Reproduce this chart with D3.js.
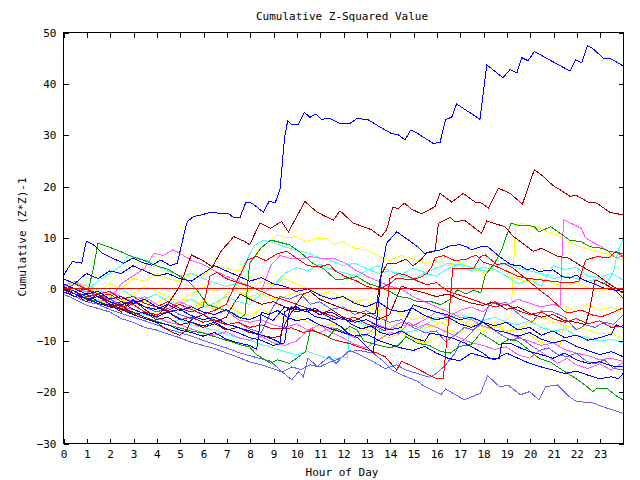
<!DOCTYPE html>
<html><head><meta charset="utf-8">
<script src="https://cdn.jsdelivr.net/npm/d3@7"></script>
<style>
html,body{margin:0;padding:0;background:#fff;}
text{font-family:"DejaVu Sans Mono","Liberation Mono",monospace;font-size:11px;fill:#000;}
</style></head>
<body>
<svg id="chart" width="640" height="480"></svg>
<script>
// ---------- data (hour, cumulative z^2-1) ----------
const xTicks = [0,1,2,3,4,5,6,7,8,9,10,11,12,13,14,15,16,17,18,19,20,21,22,23];
const yTicks = [-30,-20,-10,0,10,20,30,40,50];

const zeroLine = [[0,0],[24,0]];
const blueTop = [[0,2.5],[0.4,5.3],[0.8,5.0],[1.0,9.3],[1.3,8.6],[1.7,6.9],[2.2,5.8],[2.6,5.0],[3.0,6.0],[3.3,5.3],[3.8,4.6],[4.2,5.6],[4.6,4.5],[4.9,5.0],[5.23,11.5],[5.33,13.1],[5.59,14.1],[5.87,14.3],[6.3,14.9],[6.73,14.7],[7.09,14.7],[7.3,13.9],[7.59,13.9],[7.84,16.9],[8.09,16.7],[8.59,14.9],[8.84,17.1],[9.09,16.7],[9.3,19.4],[9.5,29.6],[9.63,32.7],[9.8,32.0],[10.08,32.0],[10.34,34.4],[10.58,33.4],[10.84,34.0],[11.08,33.0],[11.44,33.2],[11.87,32.2],[12.3,32.2],[12.61,33.2],[13.08,32.9],[13.59,31.5],[14.09,30.2],[14.37,30.0],[14.66,29.0],[14.9,30.9],[15.15,30.4],[15.87,28.3],[16.16,28.5],[16.4,33.0],[16.66,33.4],[16.87,36.0],[17.87,33.0],[18.16,43.6],[18.86,41.1],[19.16,42.7],[19.45,42.0],[19.66,45.0],[19.93,44.4],[20.2,46.2],[20.8,44.7],[21.73,42.4],[21.97,44.6],[22.23,44.0],[22.47,47.3],[22.7,46.8],[23.16,44.9],[23.44,44.9],[24,43.4]];
const darkRed1 = [[0,0.5],[0.5,-1],[1,-2.5],[1.5,-1],[2,-3],[2.5,-4.5],[3,-2],[3.5,-4],[4,-5.5],[4.5,-3],[5,0.5],[5.5,6.6],[6,5.5],[6.4,4.3],[6.8,7.5],[7.2,9.5],[7.3,10.2],[7.8,9.2],[8.0,8.6],[8.44,12.8],[8.9,11.8],[9.37,13.1],[9.66,11.1],[10.37,17.0],[10.87,15.0],[11.2,14.2],[11.59,13.4],[11.87,15.2],[12.44,12.8],[13.23,11.5],[13.63,10.1],[13.87,11.5],[14.13,15.9],[14.37,15.6],[14.63,16.7],[14.94,15.5],[15.37,14.6],[15.94,16.0],[16.16,18.6],[16.66,16.9],[17.16,18.6],[17.66,16.9],[17.94,16.7],[18.23,15.7],[18.66,19.6],[19.16,18.6],[19.69,16.5],[20.2,23.2],[20.59,21.9],[21.0,20.1],[21.37,19.1],[21.73,18.0],[22.0,18.2],[22.5,16.9],[22.87,16.7],[23.44,14.9],[24,14.4]];
const darkRed2 = [[0,0],[0.5,-1.5],[1,-1],[1.5,-2.5],[2,-3.5],[2.5,-3],[3,-5],[3.5,-4.5],[4,-6],[4.5,-5.5],[5,-7],[5.5,-6.5],[6,-7.5],[6.5,-6.8],[7,-8],[7.5,-7.5],[8,-8.5],[8.5,-9],[9,-9.5],[9.3,-9.2],[9.6,-6],[10,-3],[10.3,-1],[10.6,-0.5],[11,-2],[11.4,-2.8],[11.8,-3.5],[12.2,-4.2],[12.6,-4.5],[13.0,-4.9],[13.4,-4.7],[13.6,2.4],[13.9,5.0],[14.3,5.0],[14.7,5.8],[15.0,4.5],[15.3,5.5],[15.6,7.0],[15.94,7.3],[16.09,12.8],[16.59,13.9],[16.8,13.1],[17.23,13.3],[17.94,10.8],[18.16,13.2],[18.94,12.1],[19.3,10.2],[20.16,7.3],[20.5,7.9],[21.23,6.3],[21.66,6.0],[22.37,4.0],[22.8,3.0],[23.37,1.1],[24,-0.8]];
const darkRed3 = [[0,0],[0.5,-1],[1,-2],[1.5,-1.5],[2,-3],[2.5,-3.8],[3,-4.5],[3.5,-5.5],[4,-6.5],[4.3,-7.5],[4.7,-8.5],[5,-9],[5.3,-8],[5.5,-6],[6,-5],[6.5,-6.5],[7,-5.5],[7.3,-3],[7.6,-1],[8,-2],[8.5,-3],[9,-2.5],[9.5,-3.5],[10,-4.5],[10.5,-3.8],[11,-5],[11.5,-4],[12,-5.5],[12.5,-6.2],[13,-5],[13.5,-6],[14,-5],[14.5,0.5],[15,-0.2],[15.5,-0.8],[16,-1.5],[16.5,-1],[17,-2],[17.5,-2.8],[18,-3.2],[18.5,-2.5],[19,-4],[19.5,-3.5],[20,-4.8],[20.5,-5.5],[21,-5],[21.5,-6.2],[22,-6.5],[22.4,-7],[22.6,-3.4],[22.8,1.75],[23.2,1.0],[23.6,0],[24,-1.8]];
const red1 = [[0,0.5],[0.5,-0.5],[1,-1.5],[1.5,-1],[2,-2.5],[2.5,-3.5],[3,-3],[3.5,-4.5],[4,-5],[4.5,-4.5],[5,-6],[5.5,-5.5],[6,-6.5],[6.5,-6],[7,-7],[7.5,-6.5],[8,-7.5],[8.5,-7],[9,-7.8],[9.8,-7.6],[10.3,-8.5],[10.7,-8.0],[11.2,-9],[11.6,-9.9],[12.25,-10.6],[12.8,-11.5],[13.3,-12.2],[13.8,-13.2],[14.3,-15.8],[14.5,-14.1],[15.0,-15.1],[15.5,-16.3],[16.0,-17.5],[16.3,-17.4],[16.5,-7.3],[16.6,-2.1],[16.7,4.0],[17.1,4.0],[17.6,4.0],[17.9,6.3],[18.1,6.6],[18.6,4.7],[18.9,5.0],[19.3,4.0],[19.7,2.5],[20.5,-0.5],[20.8,-1.5],[21.5,-4.4],[21.7,-4.7],[22.2,-4.1],[22.7,-5.1],[23.1,-5.4],[23.5,-4.7],[24,-3.7]];
const red2 = [[0,-0.5],[0.5,1],[1,0],[1.5,-1.5],[2,-1],[2.5,-2.5],[3,-3],[3.5,-2],[4,-3.5],[4.5,-4.2],[5,-3],[5.5,-4],[6,-5],[6.5,-4.2],[7,-3],[7.5,2],[7.9,5.6],[8.3,6.3],[8.7,5.5],[9.2,6.9],[9.6,7.3],[10.0,6.0],[10.5,4.5],[11.0,4.3],[11.4,4.8],[11.7,3.4],[12.1,2.4],[12.6,1.5],[13.0,0.5],[13.5,-0.2],[14.0,1.0],[14.3,2.1],[14.9,1.75],[15.3,2.2],[15.6,3.0],[15.8,4.3],[15.94,6.0],[16.3,6.5],[16.8,5.5],[17.3,5.8],[17.7,6.6],[18.0,5.2],[18.5,4.5],[19.0,3.5],[19.5,2.4],[20.0,2.0],[20.5,1.75],[21.1,1.4],[21.6,1.2],[22.1,1.4],[22.4,5.6],[22.9,6.3],[23.4,6.0],[23.7,7.3],[24,6.3]];
const red3 = [[0,0.5],[0.5,-0.5],[1,0],[1.5,-1],[2,-0.5],[2.5,-2],[3,-1.5],[3.5,-2.8],[4,-3.5],[4.5,-2.5],[5,-3.8],[5.5,-4.5],[6,-3.5],[6.3,2.5],[6.6,3.2],[7,2],[7.5,1.2],[8,0.5],[8.5,-0.5],[9,-1.5],[9.5,-2.2],[10,-3],[10.5,-3.8],[11,-4.5],[11.5,-5.2],[12,-6],[12.5,-5.5],[13,-6.8],[13.5,-7.5],[13.8,-8.2],[14.0,2.0],[14.4,3.0],[14.8,2.5],[15.2,1.5],[15.6,0.8],[16,1.2],[16.5,-0.5],[17,-1.2],[17.5,-2],[18,-2.8],[18.5,-3.5],[19,-3],[19.5,-4.2],[20,-5],[20.5,-4.5],[21,-5.8],[21.5,-6.5],[22,-5.8],[22.5,-6.8],[23,-6.2],[23.5,-7.5],[24,-7.2]];
const green1 = [[0,0],[0.5,-1],[1,-2],[1.3,4],[1.5,8.9],[2.3,7.6],[3,6.2],[3.5,5.5],[4,4.5],[4.5,3.8],[5,2.5],[5.3,1.75],[5.7,0],[6.2,-3.1],[6.7,-3.8],[7.3,-4.7],[7.6,-5.7],[7.8,-5.0],[8.0,5.0],[8.5,8.0],[8.9,9.5],[9.7,8.6],[10.2,7.0],[10.7,5.0],[11.2,3.8],[11.7,1.75],[12.2,2.0],[12.6,2.4],[13.1,1.0],[13.5,0.45],[14.0,-0.5],[14.4,-1.5],[14.8,-1.8],[15.2,-2.5],[15.8,-2.5],[16.2,-3.1],[16.6,-2.0],[16.9,-0.2],[17.3,-1.0],[17.6,-0.2],[17.9,-0.8],[18.1,2.7],[18.5,5.0],[18.8,7.6],[19.2,12.8],[19.5,12.4],[19.9,12.4],[20.2,12.1],[20.4,11.1],[20.9,12.1],[21.4,10.5],[21.7,9.5],[22.2,9.2],[22.6,8.2],[23.1,7.9],[23.4,7.3],[24,6.9]];
const green2 = [[0,0],[0.5,-1],[1,-1.8],[1.5,-2.5],[2,-3.2],[2.5,-4],[3,-4.6],[3.5,-5.5],[4,-6.3],[4.5,-7],[5,-7.6],[5.5,-8.2],[6,-8.6],[6.5,-9.3],[7,-10],[7.6,-10.9],[8,-11.3],[8.3,-12.8],[8.9,-14.5],[9.2,-13.8],[9.7,-14.5],[10.1,-13.2],[10.4,-12.2],[10.6,-8.0],[11.0,-8.6],[11.4,-9.3],[11.7,-7.6],[12.0,-8.3],[12.3,-7.3],[12.6,-8.0],[12.9,-10.2],[13.4,-10.8],[14.0,-11.5],[14.4,-10.9],[14.7,-9.3],[15.2,-10.6],[15.7,-11.0],[16.2,-12.2],[16.6,-12.5],[17.0,-11.2],[17.5,-10.8],[17.9,-8.6],[18.4,-10.0],[18.7,-10.9],[19.1,-9.8],[19.5,-10.2],[20.0,-12.0],[20.4,-13.5],[20.9,-14.3],[21.4,-15.8],[22.0,-17.5],[22.4,-18.8],[22.7,-20.0],[22.9,-19.3],[23.3,-19.3],[23.7,-20.8],[24,-21.6]];
const peri1 = [[0,-0.5],[0.5,-1.5],[1,-2.5],[1.5,-3],[2,-4],[2.5,-4.8],[3,-5.5],[3.5,-6.2],[4,-7],[4.5,-7.8],[5,-8.5],[5.5,-9.2],[6,-10],[6.5,-10.8],[7,-11.5],[7.6,-12.5],[8,-13],[8.4,-13.5],[8.9,-14.1],[9.3,-15.8],[9.8,-17.7],[10.1,-16.1],[10.3,-17.1],[10.5,-13.5],[10.9,-15.1],[11.4,-13.2],[11.7,-14.5],[12.2,-12.2],[12.7,-12.0],[13.3,-12.5],[13.7,-14],[14.1,-15.8],[14.7,-17.1],[15.2,-18.0],[15.5,-19.0],[15.73,-19.5],[16.2,-20.6],[16.4,-19.5],[17.2,-21.6],[17.9,-20.3],[18.2,-16.9],[18.7,-19.0],[19.1,-18.8],[19.6,-20.6],[20.0,-20.0],[20.4,-21.6],[20.7,-19.0],[21.2,-18.7],[21.7,-21.0],[22.0,-21.9],[22.7,-22.2],[23.3,-23.2],[24,-24.2]];
const peri2 = [[0,-1],[0.5,-2],[1,-3.2],[1.5,-3.8],[2,-4.5],[2.5,-5.8],[3,-6.5],[3.5,-7.5],[4,-8],[4.5,-8.8],[5,-9.5],[5.5,-10.4],[6,-11],[6.5,-11.6],[7,-12.5],[7.5,-13.3],[8,-14.2],[8.5,-14.8],[9,-15.5],[9.4,-16.2],[9.8,-15.2],[10.2,-15.7],[10.6,-14.8],[11.0,-15.2],[11.4,-14.3],[11.9,-13.5],[12.3,-12.0],[12.8,-13],[13.3,-14.2],[13.8,-15.5],[14.3,-14.8],[14.7,-15.8],[15.2,-16.5],[15.7,-17.2],[16.0,-16.5],[16.4,-14.8],[16.8,-12.5],[17.0,-10.5],[17.3,-9.5],[17.7,-7.5],[18.0,-6.0],[18.3,-2.5],[18.6,-3.0],[19.0,-2.6],[19.3,-4.0],[19.7,-5.5],[20.1,-6.5],[20.5,-4.3],[21.0,-4.5],[21.5,-5.5],[22.0,-8.0],[22.4,-7.0],[22.8,-7.5],[23.2,-6.5],[23.6,-6.9],[24,-5.1]];
const peri3 = [[0,0.5],[0.5,-0.5],[1,-1.5],[1.5,-1],[2,-2],[2.5,-3],[3,-2.5],[3.5,-3.5],[4,-4.5],[4.5,-3.8],[5,-5],[5.5,-5.8],[6,-5],[6.5,-6.2],[7,-7],[7.5,-6.5],[8,-7.8],[8.5,-8.5],[9,-3.5],[9.3,-1.5],[9.7,-2],[10.2,-1],[10.6,-3],[11,-2.5],[11.5,-4],[12,-3.5],[12.5,-5],[13,-4.2],[13.5,-5.5],[14,-6.5],[14.5,-6],[15,-7.5],[15.5,-8.5],[16,-8.2],[16.4,-10.3],[16.8,-9.0],[17.2,-7.5],[17.6,-8],[18.0,-6.5],[18.4,-7.8],[18.8,-9],[19.2,-10],[19.6,-9.5],[20.0,-10.8],[20.4,-12],[20.8,-11.5],[21.2,-12.8],[21.6,-13.2],[22.0,-12.5],[22.4,-14],[22.8,-14.6],[23.2,-13.8],[23.6,-15.5],[24,-15.8]];
const magenta1 = [[0,0.5],[0.5,1.5],[1,0],[1.5,-1],[2,-0.5],[2.5,-1.5],[3,-2.5],[3.5,-1.5],[4,-3],[4.5,-3.8],[5,-2.5],[5.5,-3.5],[6,-4.5],[6.5,-5],[7,-4.2],[7.5,-6],[8,-6.5],[8.5,-6],[9,-7],[9.5,-7.5],[10,-6.8],[10.5,-8],[11,-8.5],[11.5,-7.5],[12,-8.5],[12.5,-9.5],[13,-9],[13.5,-7],[14,-7.8],[14.5,-6.5],[15,-7.2],[15.5,-6],[16,-4.5],[16.5,-5.5],[17,-4.2],[17.5,-3.5],[18,-4.5],[18.5,-2.5],[19,-3.2],[19.5,-2.0],[20,-2.8],[20.5,-3.5],[21,-3],[21.3,-3.4],[21.45,13.4],[21.9,12.5],[22.2,11.8],[22.4,9.9],[22.9,8.6],[23.3,7.6],[23.7,6.0],[24,6.5]];
const magenta2 = [[0,1],[0.5,0],[1,-0.5],[1.5,-1.5],[2,-2],[2.5,1],[3,2.5],[3.5,4],[3.9,6.9],[4.3,6.5],[4.7,7.6],[5,7.0],[5.5,5.5],[6,4.8],[6.5,3.5],[7,2.5],[7.5,1.5],[8,0.5],[8.5,-0.5],[8.9,4.5],[9.3,6.5],[9.7,6],[10.2,5.8],[10.6,6.3],[11.0,6.0],[11.6,6.0],[12.1,5.0],[12.6,3.5],[13.0,2.5],[13.5,1.5],[14.0,0.5],[14.5,0],[15.0,-1.5],[15.5,-2.5],[16.0,-3.5],[16.5,-4.5],[17.0,-5.5],[17.5,-6],[18.0,-7.2],[18.5,-8],[19.0,-8.5],[19.5,-9.5],[20.0,-10.2],[20.5,-11],[21.0,-10.5],[21.5,-11.8],[22.0,-12.5],[22.5,-13],[23.0,-13.8],[23.5,-13.5],[24,-14.1]];
const magenta3 = [[0,0],[0.5,-1],[1,-1.8],[1.5,-2.5],[2,-2],[2.5,-3.5],[3,-4],[3.5,-4.8],[4,-5.5],[4.5,-6.5],[5,-7],[5.5,-7.8],[6,-8.5],[6.5,-9],[7,-8.3],[7.5,-9.5],[8,-10],[8.5,-9.2],[9,-10.5],[9.5,-11],[10,-10.2],[10.5,-8],[11,-7],[11.5,-8.5],[12,-9.5],[12.5,-10.8],[13,-11.5],[13.5,-10],[14,-8.5],[14.4,-8.8],[14.8,-6.5],[15.2,-7.5],[15.6,-6.8],[16.0,-7.5],[16.5,-8.5],[17,-9.5],[17.5,-10.5],[18,-11],[18.5,-11.8],[19,-11.3],[19.5,-12.8],[20,-13.5],[20.4,-12.0],[20.8,-13.2],[21.2,-14.5],[21.6,-13.5],[22,-14.8],[22.5,-15.5],[23,-14.6],[23.5,-15.8],[24,-14.4]];
const cyan1 = [[0,0],[0.5,1],[1,-0.5],[1.5,1.5],[2,3],[2.5,4.5],[2.8,6.5],[3.2,6.0],[3.6,5.5],[4,4.5],[4.5,3.5],[5,2.5],[5.5,3],[6,2],[6.5,1.2],[7,0.5],[7.5,1],[7.8,5],[8.2,8.5],[8.6,9.5],[9.0,9.0],[9.5,8.2],[10,7.5],[10.5,7],[11,6],[11.5,5.5],[12,4.5],[12.5,5],[13,4],[13.5,3],[14,3.5],[14.5,2.5],[15,2],[15.5,3],[16,2.5],[16.5,4],[17,4.8],[17.5,4.2],[18,3.5],[18.5,4.5],[19,5],[19.5,4],[20,3.5],[20.5,3],[21,2],[21.5,2.5],[22,2],[22.5,1.5],[23,2],[23.3,1],[23.6,3.5],[23.8,7.6],[24,9.5]];
const cyan2 = [[0,0.5],[0.5,-0.5],[1,0.8],[1.5,-0.2],[2,-1],[2.5,0],[3,-1.5],[3.5,-2],[4,-1],[4.5,-2.5],[5,-3],[5.5,-2],[6,-3.5],[6.5,-2.8],[7,-1.5],[7.5,-2.5],[8,-3],[8.5,-1],[9,0.5],[9.5,3],[10,4.2],[10.5,3.5],[11,4.8],[11.5,3.8],[12,3.2],[12.5,2.5],[13,3.5],[13.5,4.5],[14,3.5],[14.5,2.8],[15,4],[15.5,3.2],[16,4],[16.5,5],[17,4.6],[17.5,3.5],[18,4.2],[18.5,3.8],[19,2.5],[19.5,1],[20,1.8],[20.5,0.5],[21,4.5],[21.5,3.8],[22,4.2],[22.5,2.5],[23,2.2],[23.5,3],[24,1.75]];
const cyan3 = [[0,0],[0.5,-1],[1,-1.5],[1.5,-2.2],[2,-3],[2.5,-3.8],[3,-4.5],[3.5,-5],[4,-5.8],[4.5,-6.5],[5,-6],[5.5,-7],[6,-7.5],[6.5,-8],[7,-8.8],[7.5,-9.5],[8,-10],[8.5,-10.8],[9,-11.5],[9.5,-12.2],[10,-12.8],[10.5,-12.2],[11,-13],[11.5,-13.8],[12,-13.2],[12.2,-13.5],[12.3,-6.0],[12.7,-6.5],[13.2,-7.5],[13.7,-8.2],[14.2,-7.5],[14.7,-8.5],[15.2,-8.0],[15.7,-6.5],[16.0,-5.5],[16.5,-6],[17,-5],[17.5,-5.8],[18,-6.2],[18.5,-5.5],[19,-6.5],[19.5,-7],[20,-6.2],[20.5,-7.5],[21,-8.2],[21.5,-7.8],[22,-9],[22.5,-9.5],[23,-10.2],[23.5,-9.8],[24,-10.5]];
const yellow1 = [[0,0],[0.5,1.5],[1,0.5],[1.5,-0.5],[2,1],[2.5,0],[3,2],[3.5,1.5],[4,3],[4.5,2],[5,1.5],[5.5,3],[6,2.5],[6.5,4.5],[7,4],[7.5,3.5],[8,5.5],[8.5,8],[8.9,9.5],[9.2,10.5],[9.6,9.9],[10.0,10.2],[10.4,9.2],[10.9,9.9],[11.3,9.9],[11.6,8.6],[12.0,9.2],[12.5,7.9],[13.0,7.6],[13.5,6.5],[14.0,5.5],[14.5,6.5],[15,5.8],[15.5,5],[16,5.5],[16.5,4.5],[17,5.2],[17.5,4],[18,3.2],[18.5,3.8],[19,2.5],[19.5,2],[20,1.2],[20.5,2],[21,1],[21.5,0.5],[22,1.2],[22.5,0.2],[23,-0.5],[23.5,0],[24,-0.8]];
const yellow2 = [[0,-0.5],[0.5,-1.5],[1,-2.5],[1.5,-2],[2,-3.5],[2.5,-2.5],[3,-1],[3.5,0.5],[4,-0.5],[4.5,-1.5],[5,-2.5],[5.5,-2],[6,-3.2],[6.5,-4],[7,-3],[7.5,-4.5],[8,-5.2],[8.5,-4],[9,-5],[9.5,-6],[10,-5.5],[10.5,-6.5],[11,-7.5],[11.5,-6.8],[12,-7.5],[12.5,-8.5],[13,-7.8],[13.5,-9],[14,-9.5],[14.5,-8.5],[15,-9.8],[15.5,-10.5],[16,-9.5],[16.5,-8],[17,-8.5],[17.5,-7],[18,-6.5],[18.5,-7.5],[19,-6],[19.2,-5],[19.4,12.5],[19.7,12.8],[20.0,12.2],[20.4,12.0],[20.8,11],[21.2,10.5],[21.6,9.2],[22,8.5],[22.5,7.8],[23,7.2],[23.5,6.5],[24,5.5]];
const yellow3 = [[0,0.5],[0.5,-0.5],[1,0.5],[1.5,-1],[2,-2],[2.5,-1.5],[3,-3],[3.5,-2.2],[4,-3.5],[4.5,-4.2],[5,-3],[5.5,-4],[6,-2.5],[6.5,-3.5],[7,-1],[7.5,0.5],[8,-0.5],[8.5,1.5],[9,0.8],[9.5,2],[10,1],[10.5,0],[11,-1],[11.5,-0.5],[12,-1.8],[12.5,-2.5],[13,-3.5],[13.5,-4.2],[14,-3.5],[14.5,-5],[15,-6],[15.5,-5.2],[16,-6.5],[16.5,-7],[17,-6.2],[17.5,-7.5],[18,-8.2],[18.5,-7],[19,-8.5],[19.5,-7.8],[20,-6.5],[20.5,-5.5],[21,-6.5],[21.5,-7.2],[22,-7.5],[22.5,-8],[23,-8.8],[23.5,-8.5],[24,-9.9]];
const yellow4 = [[0,1],[0.5,0],[1,-1],[1.5,-0.5],[2,-1.5],[2.5,-2.5],[3,-2],[3.5,-3.5],[4,-2.8],[4.5,-1.5],[5,-2.5],[5.5,-1],[6,0.5],[6.5,-0.5],[7,0.5],[7.5,-0.5],[8,-1.5],[8.5,-1],[9,-2],[9.5,-1.5],[10,-0.5],[10.5,-1.5],[11,-0.8],[11.5,-2],[12,-1.5],[12.5,-2.5],[13,-2],[13.4,-3.4],[13.6,-5.4],[14.0,-7.0],[14.4,-7.3],[14.7,-8.6],[15.0,-9.3],[15.3,-10.6],[15.4,-7.6],[15.8,-7.3],[16.3,-6.5],[16.8,-5.5],[17.2,-6.8],[17.6,-5.8],[18.0,-7.5],[18.5,-6.5],[19,-8.2],[19.5,-7.8],[20,-9],[20.5,-10.5],[21,-9.5],[21.3,-11],[21.6,-3.5],[22,-4.5],[22.5,-3],[23,-4.2],[23.5,-3.5],[24,-4.8]];
const blueX = [[0,0],[0.5,-1],[1,-2],[1.5,-1.5],[2,-2.5],[2.5,-3.2],[3,-2.2],[3.5,-3.5],[4,-4],[4.5,-3],[5,-4.2],[5.5,-3.5],[6,-4.5],[6.5,-5],[7,-4],[7.5,-5.5],[8,-6],[8.5,-5],[9,-6.2],[9.5,-3.5],[10,-4.1],[10.4,-4.1],[10.8,-5.4],[11.4,-6.0],[11.9,-7.3],[12.2,-8.6],[12.66,-9.6],[13.0,-11.2],[13.3,-12.5],[13.66,3.7],[13.87,8.9],[14.3,11.1],[14.4,10.8],[14.9,9.2],[15.2,8.2],[15.5,6.9],[15.8,7.3],[16.2,7.6],[16.6,8.4],[17.0,8.6],[17.3,8.2],[17.5,7.6],[17.9,8.2],[18.2,8.2],[18.7,6.3],[19.2,4.7],[19.6,4.5],[19.9,3.7],[20.1,4.0],[20.4,3.4],[21.0,3.7],[21.4,2.4],[21.7,2.1],[22.0,2.7],[22.3,1.75],[22.7,1.1],[23.2,0.1],[23.6,-0.2],[24,-0.5]];
const blue3 = [[0,1],[0.5,0],[1,-1],[1.5,-0.5],[2,-2],[2.5,-1.5],[3,-2.8],[3.5,-2],[4,-3.5],[4.5,-4.5],[5,-4],[5.5,-5.2],[6,-6],[6.5,-5.5],[7,-6.8],[7.5,-7.5],[8,-8.2],[8.5,-9],[9,-9.8],[9.3,-10.5],[9.5,-4.5],[9.8,-3.5],[10.2,-4.2],[10.6,-3.8],[11,-5],[11.5,-4.5],[12,-5.8],[12.5,-6.5],[13,-6],[13.5,-7.2],[14,-8],[14.5,-7.5],[15,-3.1],[15.5,-3.8],[16,-4.5],[16.5,-5.1],[17,-6],[17.5,-5.5],[18,-6.5],[18.5,-7.2],[19,-6.5],[19.5,-8],[20,-7.5],[20.5,-9],[21,-8.2],[21.5,-9.5],[22,-9],[22.5,-10],[23,-9.5],[23.5,-8.8],[23.7,-7.0],[24,-7.5]];
const blue4 = [[0,-0.5],[0.5,-1.5],[1,-1],[1.5,-2.5],[2,-3.2],[2.5,-2.5],[3,-4],[3.5,-4.8],[4,-5.5],[4.5,-4.5],[5,-5.8],[5.5,-6.5],[6,-7.2],[6.5,-6.5],[7,-7.8],[7.5,-8.5],[8,-9.5],[8.5,-10],[9,-11],[9.5,-10.5],[9.7,-4.2],[10,-3.5],[10.4,-4.5],[10.8,-3.8],[11.2,-5],[11.6,-6],[12,-5.5],[12.4,-7],[12.8,-7.8],[13.2,-7.2],[13.6,-8.5],[14,-9],[14.5,-8.2],[15,-9.5],[15.5,-10.2],[15.73,-8.6],[16.2,-9.0],[16.7,-9.6],[17.2,-10.5],[17.6,-11.5],[18.0,-12.5],[18.3,-13.5],[18.7,-13.5],[18.8,-10.6],[19.2,-10.6],[19.6,-11.5],[20,-12.2],[20.5,-12.8],[21,-13.5],[21.5,-12.5],[22,-13.8],[22.5,-14.5],[23,-14.2],[23.5,-15],[24,-15.1]];
const blue5 = [[0,0.5],[0.5,-0.5],[1,-2],[1.5,-2.8],[2,-3.5],[2.5,-4],[3,-5],[3.5,-5.8],[4,-6.5],[4.5,-7],[5,-8],[5.5,-8.5],[6,-9.2],[6.5,-8.5],[7,-9.8],[7.5,-10.5],[8,-11],[8.3,-11.8],[8.5,-4.5],[8.8,-5],[9.2,-4.2],[9.6,-5.5],[10,-6.2],[10.5,-5.8],[11,-7],[11.5,-7.8],[12,-8.5],[12.5,-9.2],[13,-8.8],[13.5,-10],[14,-10.8],[14.5,-11.5],[15,-12],[15.5,-11.2],[16,-12.5],[16.5,-13.5],[17,-14],[17.5,-12.5],[18,-13.2],[18.5,-13.8],[19,-12.5],[19.5,-13.5],[20,-14.5],[20.5,-15.2],[21,-15.8],[21.5,-16.5],[22,-16],[22.5,-16.8],[23,-17.5],[23.5,-17.1],[23.8,-17.5],[24,-16.5]];
const blue6 = [[0,2],[0.5,1],[1,3],[1.5,2],[2,3.5],[2.5,3],[3,4.5],[3.5,3.5],[4,2.5],[4.5,3],[5,2],[5.5,1.5],[6,3],[6.5,4.5],[7,3.5],[7.5,2.5],[8,1.5],[8.5,2.2],[9,1],[9.5,0.5],[10,-0.5],[10.5,0],[11,-1.2],[11.5,-2],[12,-1.5],[12.5,-2.8],[13,-3.5],[13.5,-2.5],[14,-4],[14.5,-4.5],[15,-3.8],[15.5,-5.2],[16,-6],[16.5,-5.5],[17,-6.8],[17.5,-7.5],[18,-6.5],[18.5,-8],[19,-8.5],[19.5,-9.2],[20,-8.5],[20.5,-9.8],[21,-10.5],[21.5,-10],[22,-11.2],[22.5,-12],[23,-12.8],[23.5,-12.2],[24,-13.2]];

// ---------- drawing order & styles ----------
const palette = {blue:"#0000ff", darkred:"#a00000", red:"#ff0000", green:"#00a000",
  magenta:"#ff5cff", cyan:"#40ffff", yellow:"#ffff00", peri:"#6464ff"};
const series = [
  {d:yellow1,c:"yellow"},{d:yellow2,c:"yellow"},{d:yellow3,c:"yellow"},{d:yellow4,c:"yellow"},
  {d:cyan1,c:"cyan"},{d:cyan2,c:"cyan"},{d:cyan3,c:"cyan"},
  {d:magenta1,c:"magenta"},{d:magenta2,c:"magenta"},{d:magenta3,c:"magenta"},
  {d:peri1,c:"peri"},{d:peri2,c:"peri"},{d:peri3,c:"peri"},
  {d:green1,c:"green"},{d:green2,c:"green"},
  {d:red1,c:"red"},{d:red2,c:"red"},{d:red3,c:"red"},
  {d:darkRed1,c:"darkred"},{d:darkRed2,c:"darkred"},{d:darkRed3,c:"darkred"},
  {d:blueX,c:"blue"},{d:blue3,c:"blue"},{d:blue4,c:"blue"},{d:blue5,c:"blue"},{d:blue6,c:"blue"},
  {d:zeroLine,c:"red"},
  {d:blueTop,c:"blue"}
];

const svg = d3.select("#chart");
const L = 63, R = 623, T = 32, B = 443;
const x = d3.scaleLinear().domain([0,24]).range([L,R]);
const y = d3.scaleLinear().domain([-30,50]).range([B,T]);

const plot = svg.append("g");
const line = d3.line().x(p=>x(p[0])).y(p=>y(p[1]));
plot.selectAll("path.s").data(series).join("path")
  .attr("class","s")
  .attr("d", s=>line(s.d))
  .attr("fill","none")
  .attr("stroke", s=>palette[s.c])
  .attr("stroke-width",1)
  .attr("shape-rendering","crispEdges");

// frame
svg.append("rect").attr("x",L+0.5).attr("y",T+0.5).attr("width",R-L).attr("height",B-T)
  .attr("fill","none").attr("stroke","#000").attr("stroke-width",1).attr("shape-rendering","crispEdges");

// axes with inward ticks
const tl = 5;
const xb = svg.append("g").attr("transform",`translate(0.5,${B+0.5})`)
  .call(d3.axisBottom(x).tickValues(xTicks).tickSize(-tl).tickPadding(7).tickFormat(d3.format("d")));
const xt = svg.append("g").attr("transform",`translate(0.5,${T+0.5})`)
  .call(d3.axisTop(x).tickValues(xTicks).tickSize(-tl).tickFormat(""));
const yl = svg.append("g").attr("transform",`translate(${L+0.5},0.5)`)
  .call(d3.axisLeft(y).tickValues(yTicks).tickSize(-tl).tickPadding(7).tickFormat(d3.format("d")));
const yr = svg.append("g").attr("transform",`translate(${R+0.5},0.5)`)
  .call(d3.axisRight(y).tickValues(yTicks).tickSize(-tl).tickFormat(""));
[xb,xt,yl,yr].forEach(g=>{
  g.select(".domain").remove();
  g.selectAll("line").attr("stroke","#000").attr("shape-rendering","crispEdges");
  g.selectAll("text").attr("fill","#000").style("font-family",'"DejaVu Sans Mono",monospace').style("font-size","11px");
});

// titles
svg.append("text").attr("x",342).attr("y",20).attr("text-anchor","middle").text("Cumulative Z-Squared Value");
svg.append("text").attr("x",342).attr("y",476).attr("text-anchor","middle").text("Hour of Day");
svg.append("text").attr("transform","translate(26,237) rotate(-90)").attr("text-anchor","middle").text("Cumulative (Z*Z)-1");
</script>
</body></html>
